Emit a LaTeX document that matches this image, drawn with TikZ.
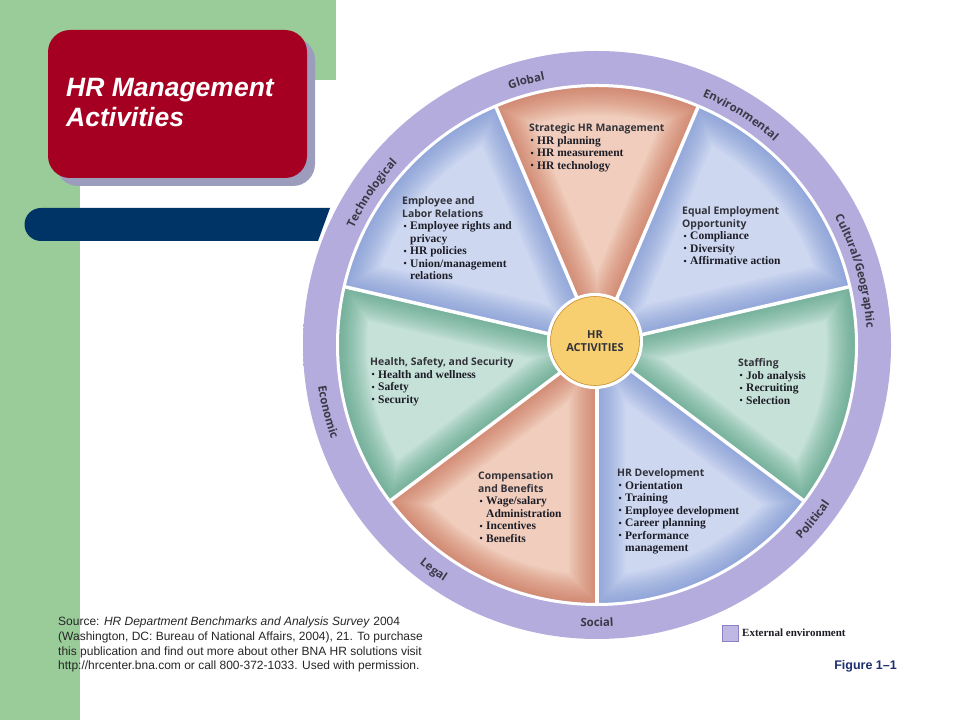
\documentclass[tikz,border=0pt]{standalone}
\usepackage{fontspec}
\setmainfont{Liberation Serif}
\newfontfamily\hsans{Open Sans}
\newfontfamily\arialf{Liberation Sans}
\usetikzlibrary{decorations.text}
\definecolor{hrgreen}{RGB}{153,204,153}
\definecolor{hrred}{RGB}{165,0,33}
\definecolor{hrshadow}{RGB}{156,156,188}
\definecolor{hrnavy}{RGB}{0,51,102}
\definecolor{salL}{RGB}{240,205,188}
\definecolor{salD}{RGB}{196,96,70}
\definecolor{bluL}{RGB}{205,215,240}
\definecolor{bluD}{RGB}{108,138,206}
\definecolor{grnL}{RGB}{198,226,216}
\definecolor{grnD}{RGB}{62,148,116}
\definecolor{ringA}{RGB}{180,172,221}
\definecolor{ringB}{RGB}{214,210,238}
\definecolor{ringD}{RGB}{140,130,195}
\definecolor{goldA}{RGB}{247,206,112}
\definecolor{goldB}{RGB}{230,163,48}
\definecolor{headtxt}{RGB}{50,50,58}
\definecolor{itemtxt}{RGB}{28,28,38}
\definecolor{ringtxt}{RGB}{58,58,70}
\definecolor{figblue}{RGB}{28,48,110}
\pgfdeclareradialshading{ringshade}{\pgfpoint{0bp}{0bp}}{color(0bp)=(ringA); color(44bp)=(ringA); color(50bp)=(ringB); color(72bp)=(ringB)}
\pgfdeclareradialshading{goldshade}{\pgfpoint{0bp}{0bp}}{color(0bp)=(goldA); color(24bp)=(goldA); color(50bp)=(goldB); color(72bp)=(goldB)}
\newcommand\hrseg[4]{%
 \begin{scope}
  \clip (C) -- ([shift={(C)}]#1:258) arc[start angle=#1,end angle=#2,radius=258] -- cycle;
  \fill[#3] (C) circle (260);
  \foreach \w in {56,52,48,44,40,36,32,28,24,20,16,12,8,4}
   \draw[#4, line width=\w pt, opacity=0.055] (C) -- ([shift={(C)}]#1:258) arc[start angle=#1,end angle=#2,radius=258] -- cycle;
 \end{scope}}
\newcommand\hrhead[1]{{\hsans\bfseries\fontsize{10.4}{12.5}\selectfont\color{headtxt}#1}}
\newcommand\hrbul{\hspace*{1.5pt}\makebox[6.5pt][l]{\fontsize{9}{9}\selectfont\raisebox{0.5pt}{•}}}
\newcommand\hrcont{\hspace*{8pt}}
\tikzset{
 segtext/.style={anchor=north west, inner sep=0pt, align=left, text=itemtxt, font=\fontsize{11.5}{12.5}\selectfont\bfseries},
 ringlabel/.style={decorate, decoration={text along path, text align=center, text color=ringtxt, text={|\hsans\bfseries\fontsize{11.5}{13}\selectfont|#1}}}
}
\begin{document}
\begin{tikzpicture}[x=1pt,y=1pt]
\useasboundingbox (0,0) rectangle (960,720);
\fill[white] (0,0) rectangle (960,720);
% green background bands
\fill[hrgreen] (0,0) rectangle (80,720);
\fill[hrgreen] (0,640) rectangle (336,720);
% title box
\fill[hrshadow, rounded corners=22pt] (56,534) rectangle (315,682);
\fill[hrred, rounded corners=22pt] (48,542) rectangle (307,690);
\node (title) [anchor=north west, inner sep=0pt, align=left, text=white, font=\arialf\bfseries\itshape\fontsize{26.5}{30}\selectfont] at (66,642) {HR Management\\Activities};
% navy bar
\fill[hrnavy] (41,479) -- (318,479) -- (330,512) -- (41,512) arc[start angle=90,end angle=270,radius=16.5] -- cycle;
% wheel
\coordinate (C) at (597,375);
\coordinate (CC) at (595,379);
\shade[shading=ringshade] (C) circle (294);
\hrseg{67}{113}{salL}{salD}
\hrseg{113}{167}{bluL}{bluD}
\hrseg{167}{217}{grnL}{grnD}
\hrseg{217}{270}{salL}{salD}
\hrseg{270}{323}{bluL}{bluD}
\hrseg{323}{373}{grnL}{grnD}
\hrseg{13}{67}{bluL}{bluD}
\foreach \a in {13,67,113,167,217,270,323}
  \draw[white, line width=3.5pt] (C) -- ([shift={(C)}]\a:259);
\draw[white, line width=3pt] (C) circle (259.5);
% centre
\shade[shading=goldshade] (CC) circle (45);
\draw[goldB!85!black, line width=0.6pt] (CC) circle (44.5);
\draw[white, line width=3pt] (CC) circle (46.5);
\node (hract) [inner sep=0pt, align=center, text=headtxt, font=\hsans\bfseries\fontsize{11}{13}\selectfont] at (CC) {HR\\ACTIVITIES};
% ring labels
\path[ringlabel=Global] ([shift={(C)}]135:270) arc[start angle=135,end angle=75,radius=270];
\path[ringlabel=Environmental] ([shift={(C)}]88:270) arc[start angle=88,end angle=28,radius=270];
\path[ringlabel=Technological] ([shift={(C)}]186:270) arc[start angle=186,end angle=106,radius=270];
\path[ringlabel=Cultural/Geographic] ([shift={(C)}]56:270) arc[start angle=56,end angle=-24,radius=270];
\path[ringlabel=Political] ([shift={(C)}]-69:282) arc[start angle=-69,end angle=-9,radius=282];
\path[ringlabel=Social] ([shift={(C)}]-120:282) arc[start angle=-120,end angle=-60,radius=282];
\path[ringlabel=Legal] ([shift={(C)}]204:282) arc[start angle=204,end angle=264,radius=282];
\path[ringlabel=Economic] ([shift={(C)}]164:282) arc[start angle=164,end angle=224,radius=282];
% segment texts
\node (strat) [segtext] at (529,596.5) {\hrhead{Strategic HR Management}\\ \hrbul HR planning\\ \hrbul HR measurement\\ \hrbul HR technology};
\node (emp) [segtext] at (402,523.5) {\hrhead{Employee and}\\ \hrhead{Labor Relations}\\ \hrbul Employee rights and\\ \hrcont privacy\\ \hrbul HR policies\\ \hrbul Union/management\\ \hrcont relations};
\node (eeo) [segtext] at (682,513.5) {\hrhead{Equal Employment}\\ \hrhead{Opportunity}\\ \hrbul Compliance\\ \hrbul Diversity\\ \hrbul Affirmative action};
\node (hss) [segtext] at (370,362.5) {\hrhead{Health, Safety, and Security}\\ \hrbul Health and wellness\\ \hrbul Safety\\ \hrbul Security};
\node (staff) [segtext] at (738,361.5) {\hrhead{Staffing}\\ \hrbul Job analysis\\ \hrbul Recruiting\\ \hrbul Selection};
\node (comp) [segtext] at (478,248.5) {\hrhead{Compensation}\\ \hrhead{and Benefits}\\ \hrbul Wage/salary\\ \hrcont Administration\\ \hrbul Incentives\\ \hrbul Benefits};
\node (hrdev) [segtext] at (617,251.5) {\hrhead{HR Development}\\ \hrbul Orientation\\ \hrbul Training\\ \hrbul Employee development\\ \hrbul Career planning\\ \hrbul Performance\\ \hrcont management};
% legend
\node (swatch) [draw=ringD, fill=ringA!85!white, minimum size=16pt, inner sep=0pt] at (730,87) {};
\node (legend) [anchor=west, inner sep=0pt, text=itemtxt, font=\fontsize{11}{12}\selectfont\bfseries] at (742,87) {External environment};
% source
\node (src) [anchor=north west, inner sep=0pt, align=left, text=black!85, font=\arialf\fontsize{12}{14.7}\selectfont] at (58,103) {Source: \textit{HR Department Benchmarks and Analysis Survey} 2004\\ (Washington, DC: Bureau of National Affairs, 2004), 21. To purchase\\ this publication and find out more about other BNA HR solutions visit\\ http://hrcenter.bna.com or call 800-372-1033. Used with permission.};
\node (fig) [anchor=base east, inner sep=0pt, text=figblue, font=\arialf\bfseries\fontsize{12.5}{14}\selectfont] at (897,51) {Figure 1–1};
\end{tikzpicture}
\end{document}
